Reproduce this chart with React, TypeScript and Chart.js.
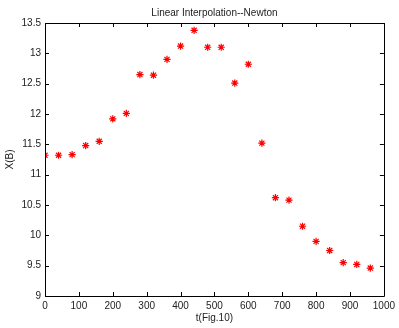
import React, { useEffect, useRef } from "react";
import { Chart, registerables } from "chart.js";

Chart.register(...registerables);

const tValues = [0, 40, 80, 120, 160, 200, 240, 280, 320, 360, 400, 440, 480, 520, 560, 600, 640, 680, 720, 760, 800, 840, 880, 920, 960];
const xbValues = [11.32, 11.32, 11.33, 11.48, 11.55, 11.92, 12.01, 12.65, 12.64, 12.9, 13.12, 13.38, 13.1, 13.1, 12.51, 12.82, 11.52, 10.62, 10.58, 10.15, 9.9, 9.75, 9.55, 9.52, 9.46];
const titleText = "Linear Interpolation--Newton";
const xTitle = "t(Fig.10)";
const yTitle = "X(B)";

const FONT = "Liberation Sans, Arial, Helvetica, sans-serif";

export default function App() {
  const ref = useRef<HTMLCanvasElement>(null);
  useEffect(() => {
    document.body.style.margin = "0";
    const ctx = ref.current!;
    const framePlugin = {
      id: "frame",
      afterDraw(chart: any) {
        const c = chart.ctx;
        const { left, right, top, bottom } = chart.chartArea;
        const xs = chart.scales.x;
        const ys = chart.scales.y;
        c.save();
        c.strokeStyle = "#000";
        c.lineWidth = 1;
        c.beginPath();
        c.rect(Math.round(left) + 0.5, Math.round(top) + 0.5, Math.round(right - left), Math.round(bottom - top));
        c.stroke();
        const tl = 4;
        c.beginPath();
        xs.ticks.forEach((t: any) => {
          const px = Math.round(xs.getPixelForValue(t.value)) + 0.5;
          c.moveTo(px, bottom);
          c.lineTo(px, bottom - tl);
          c.moveTo(px, top);
          c.lineTo(px, top + tl);
        });
        ys.ticks.forEach((t: any) => {
          const py = Math.round(ys.getPixelForValue(t.value)) + 0.5;
          c.moveTo(left, py);
          c.lineTo(left + tl, py);
          c.moveTo(right, py);
          c.lineTo(right - tl, py);
        });
        c.stroke();
        c.fillStyle = "#222";
        c.font = `10px ${FONT}`;
        c.textAlign = "center";
        c.textBaseline = "middle";
        c.fillText(titleText, (left + right) / 2, 13);
        c.fillText(xTitle, (left + right) / 2, 318);
        c.translate(10, (top + bottom) / 2);
        c.rotate(-Math.PI / 2);
        c.fillText(yTitle, 0, 0);
        c.restore();
      },
    };
    const chart = new Chart(ctx, {
      type: "scatter",
      data: {
        datasets: [
          {
            data: tValues.map((t, i) => ({ x: t, y: xbValues[i] })),
            pointStyle: "star",
            pointRadius: 3.6,
            borderColor: "#ff0000",
            backgroundColor: "#ff0000",
            pointBorderWidth: 1.2,
          },
          {
            data: tValues.map((t, i) => ({ x: t, y: xbValues[i] })),
            pointStyle: "circle",
            pointRadius: 1,
            borderColor: "#dd0000",
            backgroundColor: "#dd0000",
            pointBorderWidth: 0,
          },
        ],
      },
      options: {
        animation: false,
        responsive: false,
        maintainAspectRatio: false,
        layout: { padding: { top: 23, right: 10, left: 0, bottom: 0 } },
        plugins: { legend: { display: false }, title: { display: false }, tooltip: { enabled: false } },
        scales: {
          x: {
            type: "linear",
            min: 0,
            max: 1000,
            grid: { display: false, drawTicks: false, tickLength: 0 },
            border: { display: false },
            ticks: { stepSize: 100, color: "#222", font: { size: 10, family: FONT }, padding: 4, maxRotation: 0, callback: (v: any) => String(v) },
            afterFit: (s: any) => { s.height = 32; },
          },
          y: {
            type: "linear",
            min: 9,
            max: 13.5,
            grid: { display: false, drawTicks: false, tickLength: 0 },
            border: { display: false },
            ticks: { stepSize: 0.5, color: "#222", font: { size: 10, family: FONT }, padding: 4, callback: (v: any) => String(Math.round(v * 10) / 10) },
            afterFit: (s: any) => { s.width = 45; },
          },
        },
      },
      plugins: [framePlugin],
    });
    return () => chart.destroy();
  }, []);
  return (
    <div style={{ width: 399, height: 328, background: "#fff" }}>
      <canvas ref={ref} width={399} height={328} style={{ display: "block" }} />
    </div>
  );
}
